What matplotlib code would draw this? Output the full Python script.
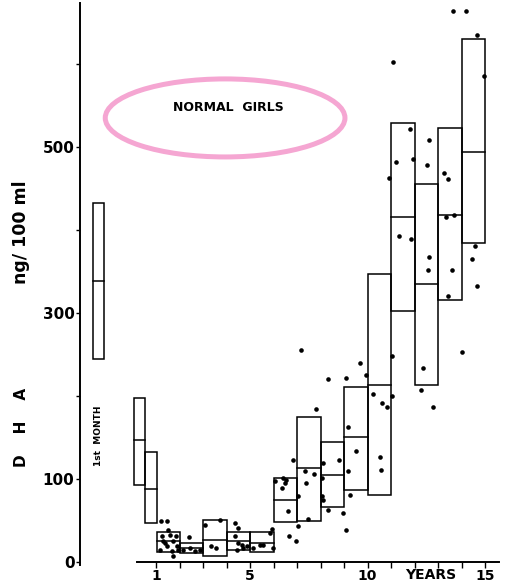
import numpy as np
import matplotlib.pyplot as plt
from matplotlib.patches import Rectangle, Ellipse

# age groups (years): start, end, and box limits (ng/100 ml)
box_start = [0.05, 0.55, 1.05, 2, 3, 4, 5, 6, 7, 8, 9, 10, 11, 12, 13, 14]
box_end = [0.55, 1.05, 2, 3, 4, 5, 6, 7, 8, 9, 10, 11, 12, 13, 14, 15]
box_low = [93, 47, 12, 11, 7, 14.5, 12, 48, 49, 66, 87, 81, 302, 213, 316, 384]
box_med = [147, 88, 25, 17, 26.5, 25, 23, 75, 113, 105, 151, 213, 416, 335, 418, 494]
box_high = [198, 132, 36, 23, 51, 36, 36, 101, 175, 145, 211, 347, 529, 455, 523, 630]

# 1st month box, drawn outside the age scale
month_pos = [-1.68, -1.21]
month_low, month_med, month_high = 245, 339, 432

# individual values
dot_age = [1.21, 1.47, 1.51, 1.26, 1.60, 1.30, 1.72, 1.47, 1.89, 1.95, 1.68, 1.17, 2.15, 1.72,
           1.38, 1.85, 2.40, 2.45, 2.66, 2.87,
           3.09, 3.72, 3.34, 3.55, 4.36, 4.49, 4.36, 4.49, 4.66, 4.87, 4.45, 4.70, 5.13, 5.43,
           5.55, 5.94, 5.85, 5.98,
           6.06, 6.40, 6.49, 6.36, 6.53, 6.83, 6.62, 6.66, 6.96, 7.04, 7.04, 7.47, 7.34, 7.38,
           7.72, 7.81, 7.17, 8.11, 8.06, 8.06, 8.11, 8.32, 8.79, 8.96, 9.09, 8.32, 9.09,
           9.17, 9.51, 9.17, 9.26, 9.68, 9.94, 10.23, 10.62, 10.83, 11.05, 11.05, 10.53, 10.57,
           11.1, 11.81, 11.21, 11.95, 10.91, 11.34, 11.85, 12.62, 12.53, 12.62, 12.57, 12.28,
           12.36, 12.79, 13.26, 13.43, 13.34, 13.68, 13.60, 13.43, 13.64, 14.19, 14.66, 14.96,
           14.57, 14.45, 14.66, 14.02]
dot_dha = [49, 49, 39, 31, 33, 25, 25, 19, 19, 14, 13, 14, 14, 7,
           23, 31, 30, 17, 13, 14,
           45, 51, 19, 17, 47, 41, 31, 23, 20, 19, 14, 17, 17, 20,
           20, 40, 35, 17,
           98, 101, 95, 89, 99, 123, 61, 31, 25, 43, 80, 52, 110, 95,
           106, 184, 255, 119, 101, 80, 75, 63, 123, 59, 39, 220, 222,
           163, 134, 110, 81, 240, 225, 202, 192, 187, 200, 248, 127, 111,
           602, 522, 482, 486, 463, 393, 389, 508, 478, 367, 352, 207,
           234, 187, 469, 461, 416, 418, 352, 320, 664, 664, 635, 586,
           381, 365, 333, 253]

fig = plt.figure(figsize=(5.08, 5.83), dpi=100)
ax = fig.add_axes([0.1575, 0.0309, 0.8366, 0.964])

for s, e, lo, md, hi in zip(box_start, box_end, box_low, box_med, box_high):
    ax.add_patch(Rectangle((s, lo), e - s, hi - lo, fill=False, ec='black', lw=1.1))
    ax.plot([s, e], [md, md], color='black', lw=1.1)

ax.add_patch(Rectangle((month_pos[0], month_low), month_pos[1] - month_pos[0],
                       month_high - month_low, fill=False, ec='black', lw=1.1))
ax.plot(month_pos, [month_med, month_med], color='black', lw=1.1)

ax.plot(dot_age, dot_dha, 'o', color='black', markersize=3.3, markeredgewidth=0)

ax.set_xlim(-2.234, 15.85)
ax.set_ylim(-3.6, 673.5)

for side in ['top', 'right']:
    ax.spines[side].set_visible(False)
ax.spines['left'].set_linewidth(1.4)
ax.spines['bottom'].set_linewidth(1.4)
ax.spines['bottom'].set_position(('data', 0))
ax.spines['bottom'].set_bounds(0.2, 15.6)

ax.set_xticks(range(1, 16))
ax.set_xticklabels(['1', '', '', '', '5', '', '', '', '', '10', '', '', '', '', '15'],
                   fontsize=10, fontweight='bold')
ax.set_yticks(range(0, 700, 100))
ax.set_yticklabels(['0', '100', '', '300', '', '500', ''], fontsize=11, fontweight='bold')
ax.tick_params(axis='x', direction='out', length=4, width=1, pad=1)
ax.tick_params(axis='y', direction='out', length=3, width=1, pad=1)

ax.text(12.7, -7, 'YEARS', ha='center', va='top', fontsize=10, fontweight='bold')
ax.text(-1.45, 152, '1st  MONTH', rotation=90, ha='center', va='center',
        fontsize=6.5, fontweight='bold')

ax.add_patch(Ellipse((3.94, 535), 10.2, 94, fill=False, ec='#f5a6d2', lw=3.6))
ax.text(4.1, 547, 'NORMAL  GIRLS', ha='center', va='center', fontsize=9, fontweight='bold')

fig.text(0.042, 0.602, 'ng/ 100 ml', rotation=90, ha='center', va='center',
         fontsize=12.5, fontweight='bold')
fig.text(0.042, 0.266, 'D    H    A', rotation=90, ha='center', va='center',
         fontsize=11, fontweight='bold')

plt.savefig('out.png')
plt.close()
